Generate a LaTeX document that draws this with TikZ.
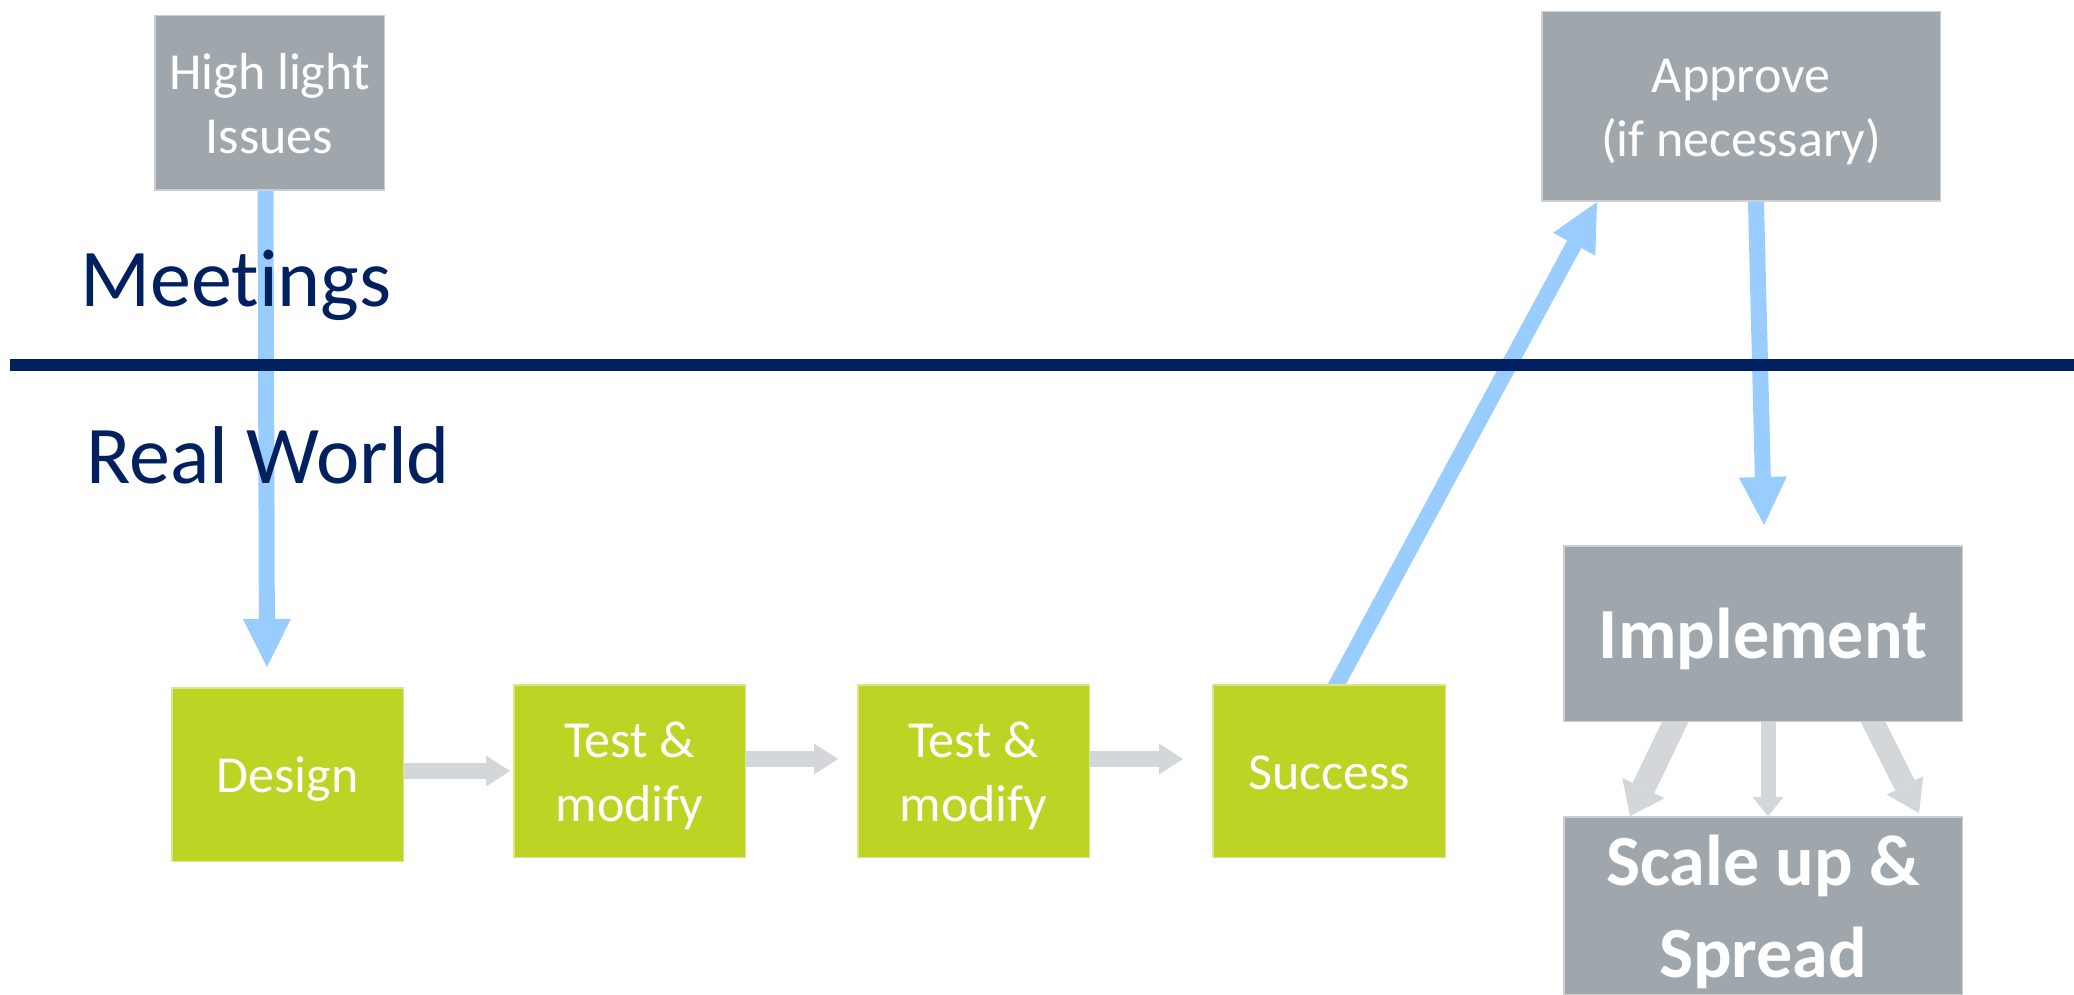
\documentclass[tikz,border=0pt]{standalone}
\usepackage{fontspec}
\setmainfont{Carlito}[Ligatures=NoCommon]
\usetikzlibrary{arrows.meta,calc}
\definecolor{boxgray}{HTML}{A0A7AC}
\definecolor{leaf}{HTML}{BDD424}
\definecolor{sky}{HTML}{99CCFF}
\definecolor{navy}{HTML}{002060}
\definecolor{pale}{HTML}{D3D7DA}
\pgfdeclarelayer{back}
\pgfsetlayers{back,main}
% uniform line box so every label sits the same way in its box
\newcommand\boxstrut{\rule[-0.25em]{0pt}{1.2em}}

\begin{document}
\begin{tikzpicture}[x=1pt,y=-1pt,
  graybox/.style={inner sep=0pt, align=center, text=white,
    font=\fontsize{52}{64}\selectfont,
    fill=boxgray, draw=boxgray!55!white, line width=1.5pt},
  greenbox/.style={graybox, fill=leaf, draw=leaf!55!white},
  boldtext/.style={font=\fontsize{72}{92}\selectfont\bfseries},
  lane/.style={inner sep=0pt, text=navy, font=\fontsize{82}{98}\selectfont},
  skyarrow/.style={draw=sky, line width=16pt,
    -{Triangle[length=48pt,width=48pt,line width=0pt]}},
  palearrow/.style={draw=pale, line width=16pt,
    -{Triangle[length=24pt,width=31pt,line width=0pt]}},
]
\useasboundingbox (0,0) rectangle (2074,995);

% swim-lane titles
\node[lane, anchor=base west] (meet) at (80,306) {Meetings};
\node[lane, anchor=base west] (real) at (86,483) {Real World};

% meeting-level boxes
\node[graybox, minimum width=229.5pt, minimum height=174.5pt] (hl) at (269.5,103)
  {\boxstrut High light\\\boxstrut Issues};
\node[graybox, minimum width=398.5pt, minimum height=189.5pt] (approve) at (1741,106.5)
  {\boxstrut Approve\\\boxstrut (if necessary)};

% real-world process
\node[greenbox, minimum width=231.5pt, minimum height=173.5pt] (design) at (287.5,774.5)
  {\boxstrut Design};
\node[greenbox, minimum width=231.5pt, minimum height=172.5pt] (t1) at (629.5,771)
  {\boxstrut Test \&\\\boxstrut modify};
\node[greenbox, minimum width=231.5pt, minimum height=172.5pt] (t2) at (973.5,771)
  {\boxstrut Test \&\\\boxstrut modify};
\node[greenbox, minimum width=232.5pt, minimum height=172.5pt] (success) at (1329,771)
  {\boxstrut Success};

\node[graybox, boldtext, minimum width=398.5pt, minimum height=175.5pt] (impl) at (1763,633.5)
  {\boxstrut Implement};
\node[graybox, boldtext, minimum width=398.5pt, minimum height=176.5pt] (scale) at (1763,906)
  {\boxstrut Scale up \&\\\boxstrut Spread};

\begin{pgfonlayer}{back}
  % flow between the lanes
  \draw[skyarrow] ([xshift=-4pt]hl.south) -- ([xshift=-20.5pt,yshift=20pt]design.north);
  \draw[skyarrow] ([xshift=4.7pt,yshift=-6pt]success.north) -- ([xshift=56pt]approve.south west);
  \draw[skyarrow] ([xshift=15pt]approve.south) -- ([xshift=1pt,yshift=20pt]impl.north);

  % steps of the trial
  \draw[palearrow] (design.east |- t1.west) -- ([xshift=-3pt]t1.west);
  \draw[palearrow] ([yshift=12pt]t1.east) -- ([xshift=-19pt,yshift=12pt]t2.west);
  \draw[palearrow] ([yshift=12pt]t2.east) -- ([xshift=-29pt,yshift=12pt]success.west);

  % roll-out
  \draw[draw=pale, line width=24pt, -{Triangle[length=31pt,width=47pt,line width=0pt]}]
    ([xshift=-85pt,yshift=6pt]impl.south) -- ([xshift=-133pt]scale.north);
  \draw[draw=pale, line width=15pt, -{Triangle[length=19pt,width=31pt,line width=0pt]}]
    ([xshift=5pt]impl.south) -- ([xshift=5pt]scale.north);
  \draw[draw=pale, line width=22pt, -{Triangle[length=31pt,width=41pt,line width=0pt]}]
    ([xshift=107pt,yshift=6pt]impl.south) -- ([xshift=156pt,yshift=3pt]scale.north);
\end{pgfonlayer}

% lane divider
\coordinate (ruleL) at (10,365);
\coordinate (ruleR) at (2074,365);
\draw[navy, line width=12pt] (ruleL) -- (ruleR);
\end{tikzpicture}
\end{document}
